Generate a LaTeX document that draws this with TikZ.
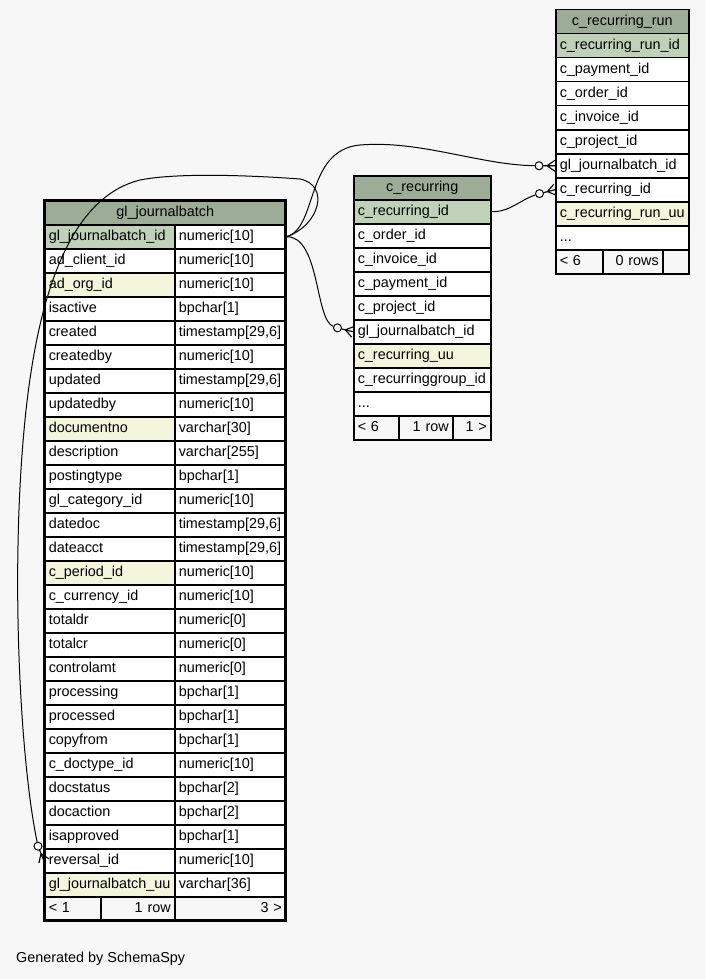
\documentclass[tikz,border=0pt]{standalone}
\usepackage{fontspec}
\setmainfont{Liberation Sans}
\usepackage{tikz}
\definecolor{bg}{HTML}{F7F7F7}
\definecolor{hdr}{HTML}{9CAC97}
\definecolor{pk}{HTML}{BFD1B9}
\definecolor{uu}{HTML}{F3F6DC}
\newcommand{\etcrow}{...}
\tikzset{crowfoot/.pic={
		\draw[line width=1.1pt] (-12,0) -- (0,0) (-8,0) -- (0,5.5) (-8,0) -- (0,-5.5);
		\node[draw, circle, fill=white, minimum size=8pt, inner sep=0pt, line width=1pt] (-o) at (-16,0) {};
	}}
\begin{document}
\begin{tikzpicture}[x=1pt, y=-1pt,
		cell/.style={draw, line width=1.5pt, anchor=north west, inner xsep=4pt, inner ysep=0pt, minimum height=24pt, text height=10.5pt, text depth=3pt, align=left, font=\fontsize{14.4}{17}\selectfont},
		fk/.style={line width=1pt}]
			\fill[bg] (0,0) rectangle (705,979);
			\useasboundingbox (0,0) rectangle (705,979);
			\node[cell, fill=hdr, text width=233pt, align=center] (gjb-h) at (44,200) {gl\_journalbatch};
			\foreach \f/\t/\c [count=\i] in {gl\_journalbatch\_id/numeric[10]/pk, ad\_client\_id/numeric[10]/white, ad\_org\_id/numeric[10]/uu, isactive/bpchar[1]/white, created/{timestamp[29,6]}/white, createdby/numeric[10]/white, updated/{timestamp[29,6]}/white, updatedby/numeric[10]/white, documentno/varchar[30]/uu, description/varchar[255]/white, postingtype/bpchar[1]/white, gl\_category\_id/numeric[10]/white, datedoc/{timestamp[29,6]}/white, dateacct/{timestamp[29,6]}/white, c\_period\_id/numeric[10]/uu, c\_currency\_id/numeric[10]/white, totaldr/numeric[0]/white, totalcr/numeric[0]/white, controlamt/numeric[0]/white, processing/bpchar[1]/white, processed/bpchar[1]/white, copyfrom/bpchar[1]/white, c\_doctype\_id/numeric[10]/white, docstatus/bpchar[2]/white, docaction/bpchar[2]/white, isapproved/bpchar[1]/white, reversal\_id/numeric[10]/white, gl\_journalbatch\_uu/varchar[36]/uu} {
				\node[cell, fill=\c, text width=122pt] (gjb-\i) at (44,200+24*\i) {\f};
				\node[cell, fill=white, text width=103pt] (gjbt-\i) at (174,200+24*\i) {\t};
			}
			\node[cell, fill=bg, text width=48pt] (gjb-lt) at (44,896) {< 1};
			\node[cell, fill=bg, text width=66pt, align=right] (gjb-rows) at (100,896) {1 row};
			\node[cell, fill=bg, text width=103pt, align=right] (gjb-gt) at (174,896) {3 >};
			\draw[line width=3pt] (44,200) rectangle (285,920);
			\node[cell, fill=hdr, text width=129pt, align=center] (rec-h) at (353,175) {c\_recurring};
			\foreach \f/\c [count=\i] in {c\_recurring\_id/pk, c\_order\_id/white, c\_invoice\_id/white, c\_payment\_id/white, c\_project\_id/white, gl\_journalbatch\_id/white, c\_recurring\_uu/uu, c\_recurringgroup\_id/white, \etcrow/white} {
				\node[cell, fill=\c, text width=129pt] (rec-\i) at (353,175+24*\i) {\f};
			}
			\node[cell, fill=bg, text width=37pt] (rec-lt) at (353,415) {< 6};
			\node[cell, fill=bg, text width=46pt, align=right] (rec-rows) at (398,415) {1 row};
			\node[cell, fill=bg, text width=30pt, align=right] (rec-gt) at (452,415) {1 >};
			\node[cell, fill=hdr, text width=125pt, align=center] (run-h) at (555,9) {c\_recurring\_run};
			\foreach \f/\c [count=\i] in {c\_recurring\_run\_id/pk, c\_payment\_id/white, c\_order\_id/white, c\_invoice\_id/white, c\_project\_id/white, gl\_journalbatch\_id/white, c\_recurring\_id/white, c\_recurring\_run\_uu/uu, \etcrow/white} {
				\node[cell, fill=\c, text width=125pt] (run-\i) at (555,9+24*\i) {\f};
			}
			\node[cell, fill=bg, text width=39pt] (run-lt) at (555,249) {< 6};
			\node[cell, fill=bg, text width=52pt, align=right] (run-rows) at (602,249) {0 rows};
			\node[cell, fill=bg, text width=18pt] (run-gt) at (662,249) {};
			\pic (ftrun) at (run-6.west) {crowfoot};
			\pic[rotate=14] (ftrec) at (run-7.west) {crowfoot};
			\pic[rotate=-14] (ftgjb) at (rec-6.west) {crowfoot};
			\pic[rotate=-68] (ftrev) at (44,861) {crowfoot};
			\draw[fk] (gjbt-1.east) .. controls (318,228) and (305,150) .. (360,145) .. controls (420,140) and (480,165) .. (ftrun-o);
			\draw[fk] (rec-1.east) .. controls (510,212) and (520,200) .. (ftrec-o);
			\draw[fk] (gjbt-1.east) .. controls (320,236) and (315,320) .. (ftgjb-o);
			\draw[fk] (gjbt-1.east) .. controls (320,225) and (330,185) .. (300,179) .. controls (260,176) and (180,172) .. (140,180) .. controls (80,195) and (40,270) .. (25,420) .. controls (10,570) and (20,760) .. (ftrev-o);
			\node[anchor=west, inner sep=0pt, font=\fontsize{14.4}{17}\selectfont] (credit) at (16,959) {Generated by SchemaSpy};
		\end{tikzpicture}
\end{document}
